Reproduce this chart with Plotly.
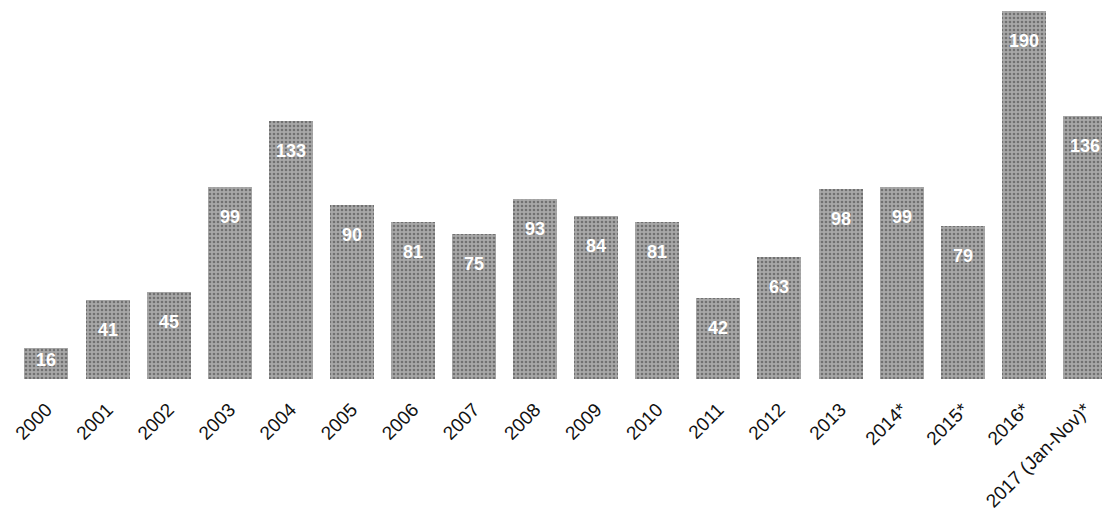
import plotly.graph_objects as go

years = ["2000", "2001", "2002", "2003", "2004", "2005", "2006", "2007", "2008",
         "2009", "2010", "2011", "2012", "2013", "2014*", "2015*", "2016*",
         "2017 (Jan-Nov)*"]
counts = [16, 41, 45, 99, 133, 90, 81, 75, 93, 84, 81, 42, 63, 98, 99, 79, 190, 136]

Y_TOP = 195.7

fig = go.Figure()
fig.add_trace(go.Bar(
    x=list(range(len(years))),
    y=counts,
    width=0.72,
    marker=dict(
        color="#9a9a9a",
        line=dict(width=0),
        pattern=dict(shape=".", fgcolor="#3a3a3a", bgcolor="#a8a8a8",
                     size=4, solidity=0.35),
    ),
    hoverinfo="x+y",
))

# value labels inside the top of each bar
for i, v in enumerate(counts):
    tall = v > 30
    fig.add_annotation(
        x=i, y=v, xref="x", yref="y",
        text="<b>%d</b>" % v, showarrow=False,
        yanchor="top", yshift=-18 if tall else 0,
        font=dict(family="Liberation Sans", size=18, color="white"),
    )

fig.update_layout(
    width=1102, height=519,
    margin=dict(l=0, r=0, t=0, b=140),
    paper_bgcolor="white", plot_bgcolor="white",
    showlegend=False,
    bargap=0,
    xaxis=dict(
        range=[-0.76, 17.28],
        tickmode="array",
        tickvals=list(range(len(years))),
        ticktext=years,
        tickangle=-45,
        showgrid=False, zeroline=False, showline=False,
        ticks="outside", ticklen=11, tickcolor="rgba(0,0,0,0)",
        tickfont=dict(family="Liberation Sans", size=19, color="#111"),
    ),
    yaxis=dict(
        range=[0, Y_TOP],
        visible=False,
    ),
)

fig.write_html("out.html")
